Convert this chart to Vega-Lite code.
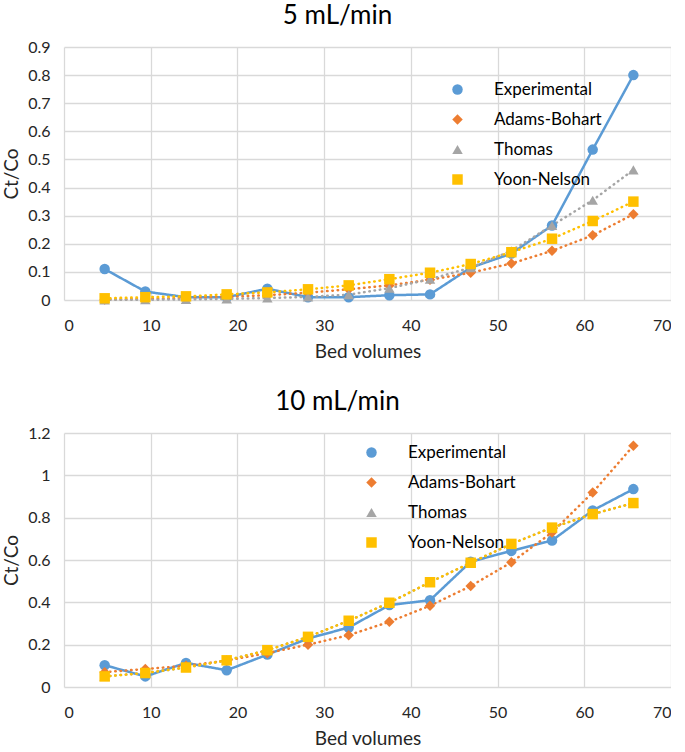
{
  "$schema": "https://vega.github.io/schema/vega-lite/v6.json",
  "autosize": {"type": "pad"},
  "padding": {"left": 2, "top": 3, "right": 0, "bottom": 0},
  "background": "white",
  "bounds": "flush",
  "spacing": 133,
  "datasets": {
    "flow5": [
      {"series": "Experimental", "bv": 4.69, "ct": 0.11},
      {"series": "Experimental", "bv": 9.38, "ct": 0.03},
      {"series": "Experimental", "bv": 14.07, "ct": 0.01},
      {"series": "Experimental", "bv": 18.76, "ct": 0.01},
      {"series": "Experimental", "bv": 23.45, "ct": 0.04},
      {"series": "Experimental", "bv": 28.14, "ct": 0.01},
      {"series": "Experimental", "bv": 32.83, "ct": 0.01},
      {"series": "Experimental", "bv": 37.52, "ct": 0.017},
      {"series": "Experimental", "bv": 42.21, "ct": 0.02},
      {"series": "Experimental", "bv": 46.9, "ct": 0.115},
      {"series": "Experimental", "bv": 51.59, "ct": 0.165},
      {"series": "Experimental", "bv": 56.28, "ct": 0.265},
      {"series": "Experimental", "bv": 60.97, "ct": 0.535},
      {"series": "Experimental", "bv": 65.66, "ct": 0.8},
      {"series": "Adams-Bohart", "bv": 4.69, "ct": 0.002},
      {"series": "Adams-Bohart", "bv": 9.38, "ct": 0.004},
      {"series": "Adams-Bohart", "bv": 14.07, "ct": 0.007},
      {"series": "Adams-Bohart", "bv": 18.76, "ct": 0.011},
      {"series": "Adams-Bohart", "bv": 23.45, "ct": 0.017},
      {"series": "Adams-Bohart", "bv": 28.14, "ct": 0.026},
      {"series": "Adams-Bohart", "bv": 32.83, "ct": 0.038},
      {"series": "Adams-Bohart", "bv": 37.52, "ct": 0.052},
      {"series": "Adams-Bohart", "bv": 42.21, "ct": 0.072},
      {"series": "Adams-Bohart", "bv": 46.9, "ct": 0.097},
      {"series": "Adams-Bohart", "bv": 51.59, "ct": 0.13},
      {"series": "Adams-Bohart", "bv": 56.28, "ct": 0.175},
      {"series": "Adams-Bohart", "bv": 60.97, "ct": 0.23},
      {"series": "Adams-Bohart", "bv": 65.66, "ct": 0.305},
      {"series": "Thomas", "bv": 4.69, "ct": 0.0005},
      {"series": "Thomas", "bv": 9.38, "ct": 0.001},
      {"series": "Thomas", "bv": 14.07, "ct": 0.002},
      {"series": "Thomas", "bv": 18.76, "ct": 0.004},
      {"series": "Thomas", "bv": 23.45, "ct": 0.007},
      {"series": "Thomas", "bv": 28.14, "ct": 0.011},
      {"series": "Thomas", "bv": 32.83, "ct": 0.019},
      {"series": "Thomas", "bv": 37.52, "ct": 0.042},
      {"series": "Thomas", "bv": 42.21, "ct": 0.074},
      {"series": "Thomas", "bv": 46.9, "ct": 0.115},
      {"series": "Thomas", "bv": 51.59, "ct": 0.175},
      {"series": "Thomas", "bv": 56.28, "ct": 0.265},
      {"series": "Thomas", "bv": 60.97, "ct": 0.355},
      {"series": "Thomas", "bv": 65.66, "ct": 0.463},
      {"series": "Yoon-Nelson", "bv": 4.69, "ct": 0.006},
      {"series": "Yoon-Nelson", "bv": 9.38, "ct": 0.01},
      {"series": "Yoon-Nelson", "bv": 14.07, "ct": 0.013},
      {"series": "Yoon-Nelson", "bv": 18.76, "ct": 0.02},
      {"series": "Yoon-Nelson", "bv": 23.45, "ct": 0.027},
      {"series": "Yoon-Nelson", "bv": 28.14, "ct": 0.038},
      {"series": "Yoon-Nelson", "bv": 32.83, "ct": 0.052},
      {"series": "Yoon-Nelson", "bv": 37.52, "ct": 0.074},
      {"series": "Yoon-Nelson", "bv": 42.21, "ct": 0.097},
      {"series": "Yoon-Nelson", "bv": 46.9, "ct": 0.128},
      {"series": "Yoon-Nelson", "bv": 51.59, "ct": 0.17},
      {"series": "Yoon-Nelson", "bv": 56.28, "ct": 0.218},
      {"series": "Yoon-Nelson", "bv": 60.97, "ct": 0.281},
      {"series": "Yoon-Nelson", "bv": 65.66, "ct": 0.35}
    ],
    "flow10": [
      {"series": "Experimental", "bv": 4.69, "ct": 0.103},
      {"series": "Experimental", "bv": 9.38, "ct": 0.05},
      {"series": "Experimental", "bv": 14.07, "ct": 0.114},
      {"series": "Experimental", "bv": 18.76, "ct": 0.079},
      {"series": "Experimental", "bv": 23.45, "ct": 0.153},
      {"series": "Experimental", "bv": 28.14, "ct": 0.229},
      {"series": "Experimental", "bv": 32.83, "ct": 0.281},
      {"series": "Experimental", "bv": 37.52, "ct": 0.387},
      {"series": "Experimental", "bv": 42.21, "ct": 0.41},
      {"series": "Experimental", "bv": 46.9, "ct": 0.592},
      {"series": "Experimental", "bv": 51.59, "ct": 0.643},
      {"series": "Experimental", "bv": 56.28, "ct": 0.692},
      {"series": "Experimental", "bv": 60.97, "ct": 0.834},
      {"series": "Experimental", "bv": 65.66, "ct": 0.935},
      {"series": "Adams-Bohart", "bv": 4.69, "ct": 0.07},
      {"series": "Adams-Bohart", "bv": 9.38, "ct": 0.085},
      {"series": "Adams-Bohart", "bv": 14.07, "ct": 0.1},
      {"series": "Adams-Bohart", "bv": 18.76, "ct": 0.125},
      {"series": "Adams-Bohart", "bv": 23.45, "ct": 0.16},
      {"series": "Adams-Bohart", "bv": 28.14, "ct": 0.2},
      {"series": "Adams-Bohart", "bv": 32.83, "ct": 0.245},
      {"series": "Adams-Bohart", "bv": 37.52, "ct": 0.308},
      {"series": "Adams-Bohart", "bv": 42.21, "ct": 0.384},
      {"series": "Adams-Bohart", "bv": 46.9, "ct": 0.477},
      {"series": "Adams-Bohart", "bv": 51.59, "ct": 0.589},
      {"series": "Adams-Bohart", "bv": 56.28, "ct": 0.73},
      {"series": "Adams-Bohart", "bv": 60.97, "ct": 0.919},
      {"series": "Adams-Bohart", "bv": 65.66, "ct": 1.14},
      {"series": "Thomas", "bv": 4.69, "ct": 0.05},
      {"series": "Thomas", "bv": 9.38, "ct": 0.066},
      {"series": "Thomas", "bv": 14.07, "ct": 0.092},
      {"series": "Thomas", "bv": 18.76, "ct": 0.126},
      {"series": "Thomas", "bv": 23.45, "ct": 0.174},
      {"series": "Thomas", "bv": 28.14, "ct": 0.237},
      {"series": "Thomas", "bv": 32.83, "ct": 0.313},
      {"series": "Thomas", "bv": 37.52, "ct": 0.398},
      {"series": "Thomas", "bv": 42.21, "ct": 0.495},
      {"series": "Thomas", "bv": 46.9, "ct": 0.587},
      {"series": "Thomas", "bv": 51.59, "ct": 0.676},
      {"series": "Thomas", "bv": 56.28, "ct": 0.753},
      {"series": "Thomas", "bv": 60.97, "ct": 0.817},
      {"series": "Thomas", "bv": 65.66, "ct": 0.869},
      {"series": "Yoon-Nelson", "bv": 4.69, "ct": 0.05},
      {"series": "Yoon-Nelson", "bv": 9.38, "ct": 0.066},
      {"series": "Yoon-Nelson", "bv": 14.07, "ct": 0.092},
      {"series": "Yoon-Nelson", "bv": 18.76, "ct": 0.126},
      {"series": "Yoon-Nelson", "bv": 23.45, "ct": 0.174},
      {"series": "Yoon-Nelson", "bv": 28.14, "ct": 0.237},
      {"series": "Yoon-Nelson", "bv": 32.83, "ct": 0.313},
      {"series": "Yoon-Nelson", "bv": 37.52, "ct": 0.398},
      {"series": "Yoon-Nelson", "bv": 42.21, "ct": 0.495},
      {"series": "Yoon-Nelson", "bv": 46.9, "ct": 0.587},
      {"series": "Yoon-Nelson", "bv": 51.59, "ct": 0.676},
      {"series": "Yoon-Nelson", "bv": 56.28, "ct": 0.753},
      {"series": "Yoon-Nelson", "bv": 60.97, "ct": 0.817},
      {"series": "Yoon-Nelson", "bv": 65.66, "ct": 0.869}
    ]
  },
  "vconcat": [
    {
      "width": 607,
      "height": 253,
      "title": {"text": "5 mL/min", "dx": -30},
      "data": {"name": "flow5"},
      "encoding": {
        "x": {
          "field": "bv", "type": "quantitative",
          "scale": {"domain": [0, 70], "nice": false},
          "axis": {"values": [0, 10, 20, 30, 40, 50, 60, 70], "title": "Bed volumes"}
        },
        "y": {
          "field": "ct", "type": "quantitative",
          "scale": {"domain": [0, 0.9], "nice": false},
          "axis": {"values": [0, 0.1, 0.2, 0.3, 0.4, 0.5, 0.6, 0.7, 0.8, 0.9], "format": ".1~f", "title": "Ct/Co"}
        }
      },
      "layer": [
        {
          "mark": {"type": "line", "strokeWidth": 2.5, "strokeCap": "round"},
          "encoding": {
            "color": {
              "field": "series", "type": "nominal",
              "scale": {"domain": ["Experimental", "Adams-Bohart", "Thomas", "Yoon-Nelson"], "range": ["#5b9bd5", "#ed7d31", "#a5a5a5", "#ffc000"]},
              "legend": {"orient": "none", "legendX": 385, "legendY": 34}
            },
            "strokeDash": {
              "condition": {"test": "datum.series === 'Experimental'", "value": [1, 0]},
              "value": [0.5, 4.8]
            }
          }
        },
        {
          "mark": {"type": "point", "filled": true, "opacity": 1, "size": 110},
          "encoding": {
            "color": {"field": "series", "type": "nominal", "legend": null},
            "shape": {
              "field": "series", "type": "nominal",
              "scale": {"domain": ["Experimental", "Adams-Bohart", "Thomas", "Yoon-Nelson"], "range": ["circle", "diamond", "triangle-up", "square"]},
              "legend": null
            }
          }
        }
      ]
    },
    {
      "width": 607,
      "height": 254,
      "title": {"text": "10 mL/min", "dx": -30},
      "data": {"name": "flow10"},
      "encoding": {
        "x": {
          "field": "bv", "type": "quantitative",
          "scale": {"domain": [0, 70], "nice": false},
          "axis": {"values": [0, 10, 20, 30, 40, 50, 60, 70], "title": "Bed volumes"}
        },
        "y": {
          "field": "ct", "type": "quantitative",
          "scale": {"domain": [0, 1.2], "nice": false},
          "axis": {"values": [0, 0.2, 0.4, 0.6, 0.8, 1, 1.2], "format": ".1~f", "title": "Ct/Co"}
        }
      },
      "layer": [
        {
          "mark": {"type": "line", "strokeWidth": 2.5, "strokeCap": "round"},
          "encoding": {
            "color": {
              "field": "series", "type": "nominal",
              "scale": {"domain": ["Experimental", "Adams-Bohart", "Thomas", "Yoon-Nelson"], "range": ["#5b9bd5", "#ed7d31", "#a5a5a5", "#ffc000"]},
              "legend": {"orient": "none", "legendX": 299, "legendY": 11}
            },
            "strokeDash": {
              "condition": {"test": "datum.series === 'Experimental'", "value": [1, 0]},
              "value": [0.5, 4.8]
            }
          }
        },
        {
          "mark": {"type": "point", "filled": true, "opacity": 1, "size": 110},
          "encoding": {
            "color": {"field": "series", "type": "nominal", "legend": null},
            "shape": {
              "field": "series", "type": "nominal",
              "scale": {"domain": ["Experimental", "Adams-Bohart", "Thomas", "Yoon-Nelson"], "range": ["circle", "diamond", "triangle-up", "square"]},
              "legend": null
            }
          }
        }
      ]
    }
  ],
  "resolve": {
    "scale": {"color": "independent", "shape": "independent"},
    "legend": {"color": "independent", "shape": "independent"}
  },
  "config": {
    "font": "Lato",
    "view": {"stroke": null},
    "title": {"fontSize": 26, "fontWeight": "normal", "color": "#000000", "anchor": "middle", "baseline": "alphabetic", "offset": 10},
    "axis": {
      "domain": false,
      "ticks": false,
      "tickSize": 0,
      "grid": true,
      "gridColor": "#d9d9d9",
      "gridWidth": 1.3,
      "labelFontSize": 16,
      "labelColor": "#262626",
      "titleFontSize": 19,
      "titleFontWeight": "normal",
      "titleColor": "#262626"
    },
    "axisX": {"labelPadding": 17, "titlePadding": 9},
    "axisY": {"labelPadding": 14, "titlePadding": 6},
    "legend": {
      "title": null,
      "padding": 0,
      "symbolSize": 110,
      "symbolStrokeWidth": 0,
      "symbolDash": [1, 0],
      "labelFontSize": 17,
      "labelColor": "#000000",
      "labelOffset": 28,
      "rowPadding": 12,
      "labelLimit": 300,
      "symbolLimit": 0
    }
  }
}
